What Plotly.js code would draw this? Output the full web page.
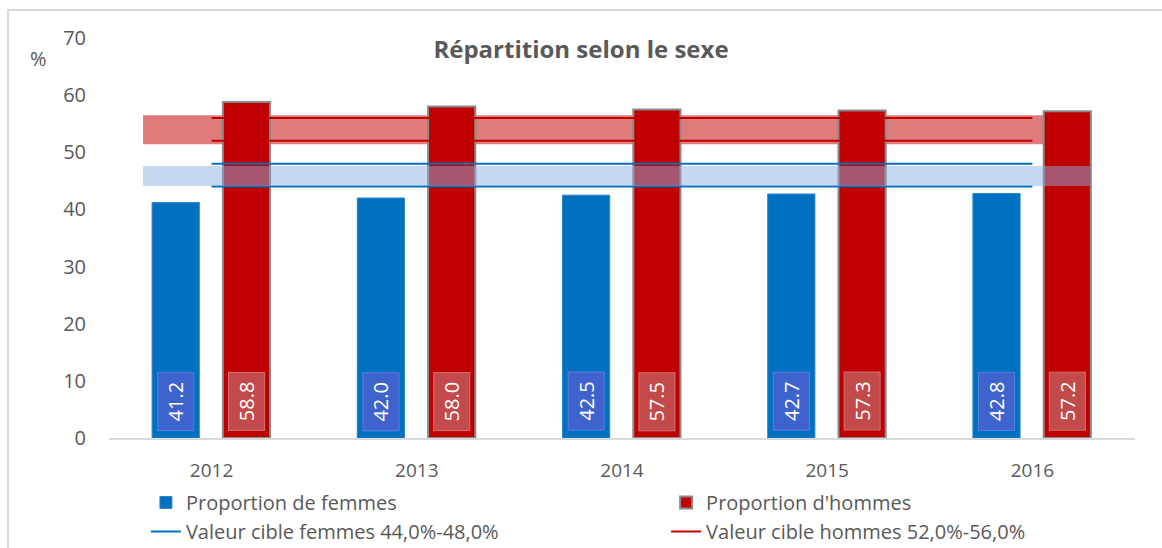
<!DOCTYPE html>
<html>
<head>
<meta charset="utf-8">
<script src="https://cdn.plot.ly/plotly-3.0.1.min.js"></script>
<style>
  html, body { margin: 0; padding: 0; background: #fff; }
  #wrap { position: relative; width: 1162px; height: 548px; }
  #chart { width: 1162px; height: 548px; }
  #frame { position: absolute; left: 7px; top: 9px; right: -10px; bottom: -10px;
           border-left: 2px solid #d9d9d9; border-top: 2px solid #d9d9d9; pointer-events: none; }
</style>
</head>
<body>
<div id="wrap"><div id="chart"></div><div id="frame"></div></div>
<script>
// ---- data ----
const years = ['2012', '2013', '2014', '2015', '2016'];
const femmes = [41.2, 42.0, 42.5, 42.7, 42.8];
const hommes = [58.8, 58.0, 57.5, 57.3, 57.2];
const cibleFemmes = [44.0, 48.0];
const cibleHommes = [52.0, 56.0];
const bandeFemmes = [44.1, 47.6];
const bandeHommes = [51.4, 56.5];
const seriesNames = ['Proportion de femmes', "Proportion d'hommes",
  'Valeur cible femmes 44,0%-48,0%', 'Valeur cible hommes 52,0%-56,0%'];

const BLUE = '#0070C0', RED = '#C00000', TXT = '#595959';
const FONT = 'Open Sans, sans-serif';

function targetLine(bounds) {
  const x = years.concat([null], years);
  const y = years.map(() => bounds[0]).concat([null], years.map(() => bounds[1]));
  return { x, y };
}
const tf = targetLine(cibleFemmes), th = targetLine(cibleHommes);

const traces = [
  { type: 'bar', name: seriesNames[0], x: years, y: femmes, width: 0.23, offset: -0.29,
    marker: { color: BLUE, line: { color: '#2b86cc', width: 1 } }, legend: 'legend', hoverinfo: 'y' },
  { type: 'bar', name: seriesNames[1], x: years, y: hommes, width: 0.23, offset: 0.055,
    marker: { color: RED, line: { color: '#8a8a8a', width: 2 } }, legend: 'legend2', hoverinfo: 'y' },
  { type: 'scatter', mode: 'lines', name: seriesNames[2], x: tf.x, y: tf.y, connectgaps: false,
    line: { color: BLUE, width: 2 }, legend: 'legend', hoverinfo: 'y' },
  { type: 'scatter', mode: 'lines', name: seriesNames[3], x: th.x, y: th.y, connectgaps: false,
    line: { color: RED, width: 2 }, legend: 'legend2', hoverinfo: 'y' }
];

const annotations = [];
years.forEach((yr, i) => {
  annotations.push({ xref: 'x', yref: 'y', x: i - 0.175, y: 6.4, text: femmes[i].toFixed(1),
    showarrow: false, textangle: -90, font: { family: FONT, size: 20, color: '#ffffff' },
    bgcolor: '#3f63cc', bordercolor: '#5b7fd8', borderwidth: 1, borderpad: 1,
    width: 55, height: 33, xanchor: 'center', yanchor: 'middle' });
  annotations.push({ xref: 'x', yref: 'y', x: i + 0.17, y: 6.4, text: hommes[i].toFixed(1),
    showarrow: false, textangle: -90, font: { family: FONT, size: 20, color: '#ffffff' },
    bgcolor: '#c24a4a', bordercolor: '#d27474', borderwidth: 1, borderpad: 1,
    width: 55, height: 33, xanchor: 'center', yanchor: 'middle' });
});
annotations.push({ xref: 'paper', yref: 'paper', x: -0.069, y: 0.95, text: '%', showarrow: false,
  font: { family: FONT, size: 20, color: TXT }, xanchor: 'center', yanchor: 'middle' });

const shapes = [
  { type: 'rect', xref: 'x', yref: 'y', x0: -0.334, x1: 4.28, y0: bandeHommes[0], y1: bandeHommes[1],
    fillcolor: '#DE7C7C', line: { width: 0 }, layer: 'below' },
  { type: 'rect', xref: 'x', yref: 'y', x0: -0.334, x1: 4.28, y0: bandeFemmes[0], y1: bandeFemmes[1],
    fillcolor: 'rgba(138,176,225,0.49)', line: { width: 0 }, layer: 'above' }
];

const layout = {
  width: 1162, height: 548,
  margin: { l: 109, r: 27, t: 38, b: 110, autoexpand: false },
  paper_bgcolor: '#ffffff', plot_bgcolor: '#ffffff',
  font: { family: FONT, color: TXT },
  title: { text: '<b>Répartition selon le sexe</b>', xref: 'container', x: 0.5, xanchor: 'center',
    yref: 'container', y: 1 - 50 / 548, yanchor: 'middle', font: { family: FONT, size: 24, color: TXT } },
  xaxis: { type: 'category', range: [-0.5, 4.5], showgrid: false, zeroline: false,
    showline: true, linecolor: '#d9d9d9', linewidth: 2, ticks: '', ticklabelstandoff: 14,
    tickfont: { family: FONT, size: 19, color: TXT }, fixedrange: true },
  yaxis: { range: [0, 70], dtick: 10, showgrid: false, zeroline: false, showline: false,
    ticks: '', ticklabelstandoff: 22, tickfont: { family: FONT, size: 20, color: TXT }, fixedrange: true },
  showlegend: true,
  legend: { x: 0.036, xanchor: 'left', y: -0.1125, yanchor: 'top', orientation: 'v',
    font: { family: FONT, size: 20, color: TXT }, bgcolor: 'rgba(0,0,0,0)', tracegroupgap: 0 },
  legend2: { x: 0.543, xanchor: 'left', y: -0.1125, yanchor: 'top', orientation: 'v',
    font: { family: FONT, size: 20, color: TXT }, bgcolor: 'rgba(0,0,0,0)', tracegroupgap: 0 },
  shapes, annotations,
  bargap: 0
};

Plotly.newPlot('chart', traces, layout, { displayModeBar: false, staticPlot: true });
</script>
</body>
</html>
